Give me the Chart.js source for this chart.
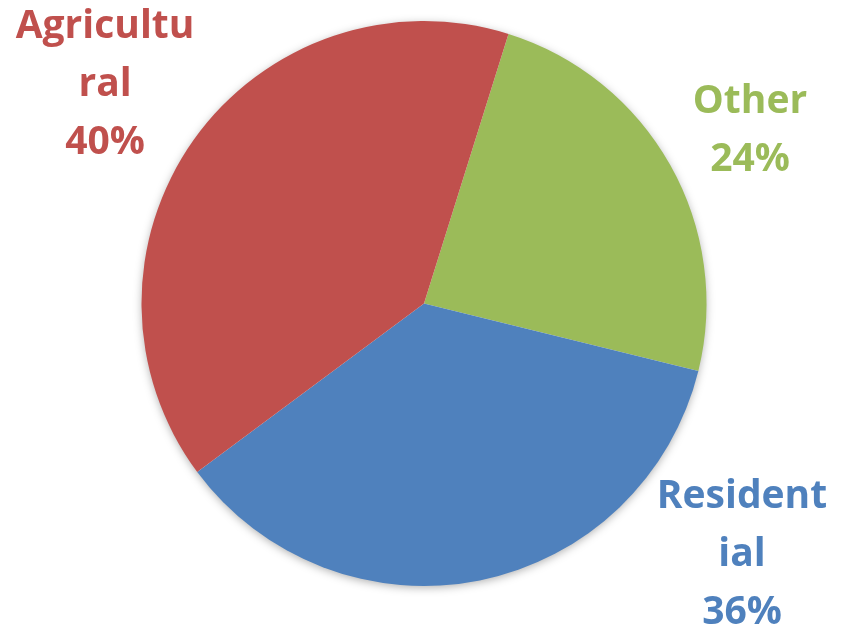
<!DOCTYPE html>
<html>
<head>
<meta charset="utf-8">
<script src="https://cdn.jsdelivr.net/npm/chart.js@4/dist/chart.umd.min.js"></script>
<style>
  html, body { margin: 0; padding: 0; background: #fff; }
  #wrap { width: 843px; height: 628px; }
</style>
</head>
<body>
<div id="wrap"><canvas id="pieChart"></canvas></div>
<script>
// pie data
var categories = ['Other', 'Residential', 'Agricultural'];
var shares = [24, 36, 40];
// labels as they wrap in the original
var labelLines = [['Other'], ['Resident', 'ial'], ['Agricultu', 'ral']];
var sliceColors = ['#9BBB59', '#4F81BD', '#C0504D'];

// soft shadow under the whole pie
var pieShadow = {
    id: 'pieShadow',
    beforeDatasetsDraw: function (chart) {
        var arc = chart.getDatasetMeta(0).data[0];
        if (!arc) return;
        var ctx = chart.ctx;
        ctx.save();
        ctx.shadowColor = 'rgba(0,0,0,0.35)';
        ctx.shadowBlur = 10;
        ctx.shadowOffsetY = 2;
        ctx.fillStyle = '#ffffff';
        ctx.beginPath();
        ctx.arc(arc.x, arc.y, arc.outerRadius - 1, 0, Math.PI * 2);
        ctx.fill();
        ctx.restore();
    }
};

// outside labels, placed relative to pie centre
var outsideLabels = {
    id: 'outsideLabels',
    afterDatasetsDraw: function (chart, args, opts) {
        var meta = chart.getDatasetMeta(0);
        var arc = meta.data[0];
        if (!arc) return;
        var ctx = chart.ctx;
        var total = shares.reduce(function (a, b) { return a + b; }, 0);
        ctx.save();
        ctx.font = 'bold ' + opts.size + 'px "Open Sans"';
        ctx.textAlign = 'center';
        ctx.textBaseline = 'alphabetic';
        for (var i = 0; i < categories.length; i++) {
            var lines = labelLines[i].concat([Math.round(shares[i] / total * 100) + '%']);
            var x = arc.x + opts.offsets[i][0];
            var y = arc.y + opts.offsets[i][1];
            ctx.fillStyle = sliceColors[i];
            for (var j = 0; j < lines.length; j++) {
                ctx.fillText(lines[j], x, y + j * opts.lineHeight);
            }
        }
        ctx.restore();
    }
};

var ctxP = document.getElementById('pieChart').getContext('2d');
var myPie = new Chart(ctxP, {
    type: 'pie',
    data: {
        labels: categories,
        datasets: [{
            data: shares,
            backgroundColor: sliceColors,
            borderWidth: 0
        }]
    },
    options: {
        responsive: true,
        maintainAspectRatio: false,
        animation: false,
        rotation: 17.4,
        layout: { padding: { top: 21, bottom: 42, left: 141, right: 136 } },
        plugins: {
            legend: { display: false },
            tooltip: { enabled: false },
            outsideLabels: {
                size: 39,
                lineHeight: 58,
                offsets: [[326, -190.5], [318, 204.5], [-319, -265.5]]
            }
        }
    },
    plugins: [pieShadow, outsideLabels]
});
</script>
</body>
</html>
